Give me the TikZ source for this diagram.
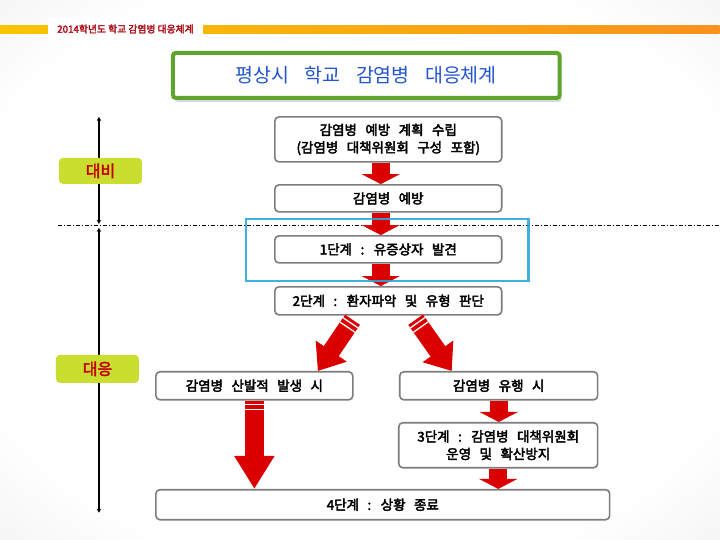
\documentclass[tikz,border=0pt]{standalone}
\usepackage{fontspec}
\setmainfont{Noto Sans CJK KR}
\newfontfamily\boxfont[FakeBold=3]{Noto Sans CJK KR}
\newfontfamily\tagfont[FakeBold=3]{Noto Sans CJK KR}
\newfontfamily\hdrfont[FakeBold=2.5]{Noto Sans CJK KR}
\newfontfamily\titlefont[WordSpace=3.5]{Noto Sans CJK KR}
\newcommand\widespaces{\spaceskip=8.5pt\relax}
\usetikzlibrary{arrows.meta,calc,shadows}
\definecolor{hdrred}{RGB}{170,10,20}
\definecolor{lblred}{RGB}{195,0,0}
\definecolor{lblgreen}{RGB}{202,222,48}
\definecolor{arrred}{RGB}{218,0,0}
\definecolor{titleblue}{RGB}{35,85,205}
\definecolor{framegreen}{RGB}{95,165,45}
\definecolor{stepblue}{RGB}{45,168,220}
\definecolor{boxgray}{RGB}{125,125,125}
\definecolor{hdryellow}{RGB}{250,196,0}
\definecolor{hdrorange}{RGB}{247,146,30}
\pgfdeclareradialshading{paper}{\pgfpoint{0bp}{0bp}}{color(0bp)=(white); color(28bp)=(white); color(50bp)=(black!11); color(72bp)=(black!17)}
\begin{document}
\begin{tikzpicture}[x=1pt,y=-1pt,
  box/.style={draw=boxgray,line width=1.6pt,rounded corners=4pt,fill=white,align=center,inner sep=0pt,
    font=\boxfont\fontsize{13.5}{17.5}\selectfont\widespaces},
  tag/.style={fill=lblgreen,rounded corners=4pt,text=lblred,minimum width=83pt,
    font=\tagfont\fontsize{16}{18}\selectfont},
  blockarrow/.style={arrred,line width=18pt,-{Triangle[width=38pt,length=10pt]}},
  slantarrow/.style={arrred,line width=18pt,-{Triangle[width=36pt,length=24pt]}},
  stripes/.style={white,line width=18pt,dash pattern=on 0pt off 3pt on 1.3pt off 4pt on 1.3pt off 2000pt},
  bar/.style={line width=1.6pt,{Stealth[length=4pt,width=4.5pt]}-{Stealth[length=4pt,width=4.5pt]}}]
\shade[shading=paper] (0,0) rectangle (720,540);
\shade[left color=hdryellow,right color=hdrorange] (0,26) rectangle (720,34);
\node[fill=white,minimum width=155pt,minimum height=24pt,text=hdrred,font=\hdrfont\fontsize{9.8}{12}\selectfont] (hdr) at (125.5,29) {2014학년도 학교 감염병 대응체계};
\node[draw=framegreen,line width=4pt,rounded corners=3pt,fill=white,minimum width=387pt,minimum height=45pt,
  drop shadow={opacity=0.3,shadow xshift=2pt,shadow yshift=-4pt},
  text=titleblue,font=\titlefont\fontsize{19.5}{21}\selectfont] (title) at (366.5,75.5) {평상시 학교 감염병 대응체계};
\draw[dash pattern=on 4pt off 2pt on 1pt off 2pt,line width=0.8pt] (58,226) -- (720,226);
\coordinate (prepTop) at (99,117);
\coordinate (prepEnd) at (99,224);
\coordinate (respTop) at (99,228);
\coordinate (respEnd) at (99,513);
\draw[bar] (prepTop) -- (prepEnd);
\draw[bar] (respTop) -- (respEnd);
\node[tag,minimum height=26pt] (prep) at (100.5,171) {대비};
\node[tag,minimum height=28pt] (resp) at (97.5,369) {대응};
\node[box,minimum width=227pt,minimum height=45pt] (plan) at (388.5,139.5) {감염병 예방 계획 수립\\(감염병 대책위원회 구성 포함)};
\node[box,minimum width=227pt,minimum height=27pt] (prevent) at (388.5,198.5) {감염병 예방};
\node[box,minimum width=227pt,minimum height=27pt] (step1) at (388.5,249.5) {1단계 : 유증상자 발견};
\node[box,minimum width=227pt,minimum height=28pt] (step2) at (388.5,301) {2단계 : 환자파악 및 유형 판단};
\node[box,minimum width=197pt,minimum height=28pt] (sporadic) at (254.5,386) {감염병 산발적 발생 시};
\node[box,minimum width=198pt,minimum height=28pt] (epidemic) at (499,386) {감염병 유행 시};
\node[box,minimum width=199pt,minimum height=45pt] (step3) at (498.5,445.5) {3단계 : 감염병 대책위원회\\운영 및 확산방지};
\node[box,minimum width=454pt,minimum height=30pt] (step4) at (383,505) {4단계 : 상황 종료};
\draw[blockarrow] ([xshift=-7.5pt]plan.south) -- ([xshift=-7.5pt]prevent.north);
\draw[blockarrow] ([xshift=-7.5pt]prevent.south) -- ([xshift=-7.5pt]step1.north);
\draw[blockarrow] ([xshift=-7.5pt]step1.south) -- ([xshift=-7.5pt]step2.north);
\draw[slantarrow,shorten <=5pt] ([xshift=-33pt]step2.south) -- ([xshift=63.5pt]sporadic.north);
\draw[stripes,shorten <=5pt] ([xshift=-33pt]step2.south) -- ([xshift=63.5pt]sporadic.north);
\draw[slantarrow,shorten <=5pt] ([xshift=24.5pt]step2.south) -- ([xshift=-47pt]epidemic.north);
\draw[stripes,shorten <=5pt] ([xshift=24.5pt]step2.south) -- ([xshift=-47pt]epidemic.north);
\draw[arrred,line width=19pt,-{Triangle[width=38pt,length=33pt]}] (sporadic.south) -- (sporadic.south |- step4.north);
\draw[stripes,line width=19pt] (sporadic.south) -- (sporadic.south |- step4.north);
\draw[blockarrow] (epidemic.south) -- (epidemic.south |- step3.north);
\draw[blockarrow] (step3.south) -- (step3.south |- step4.north);
\node[draw=stepblue,line width=2.6pt,opacity=0.9,minimum width=283pt,minimum height=62pt] (stepframe) at (387.5,250) {};
\end{tikzpicture}
\end{document}
